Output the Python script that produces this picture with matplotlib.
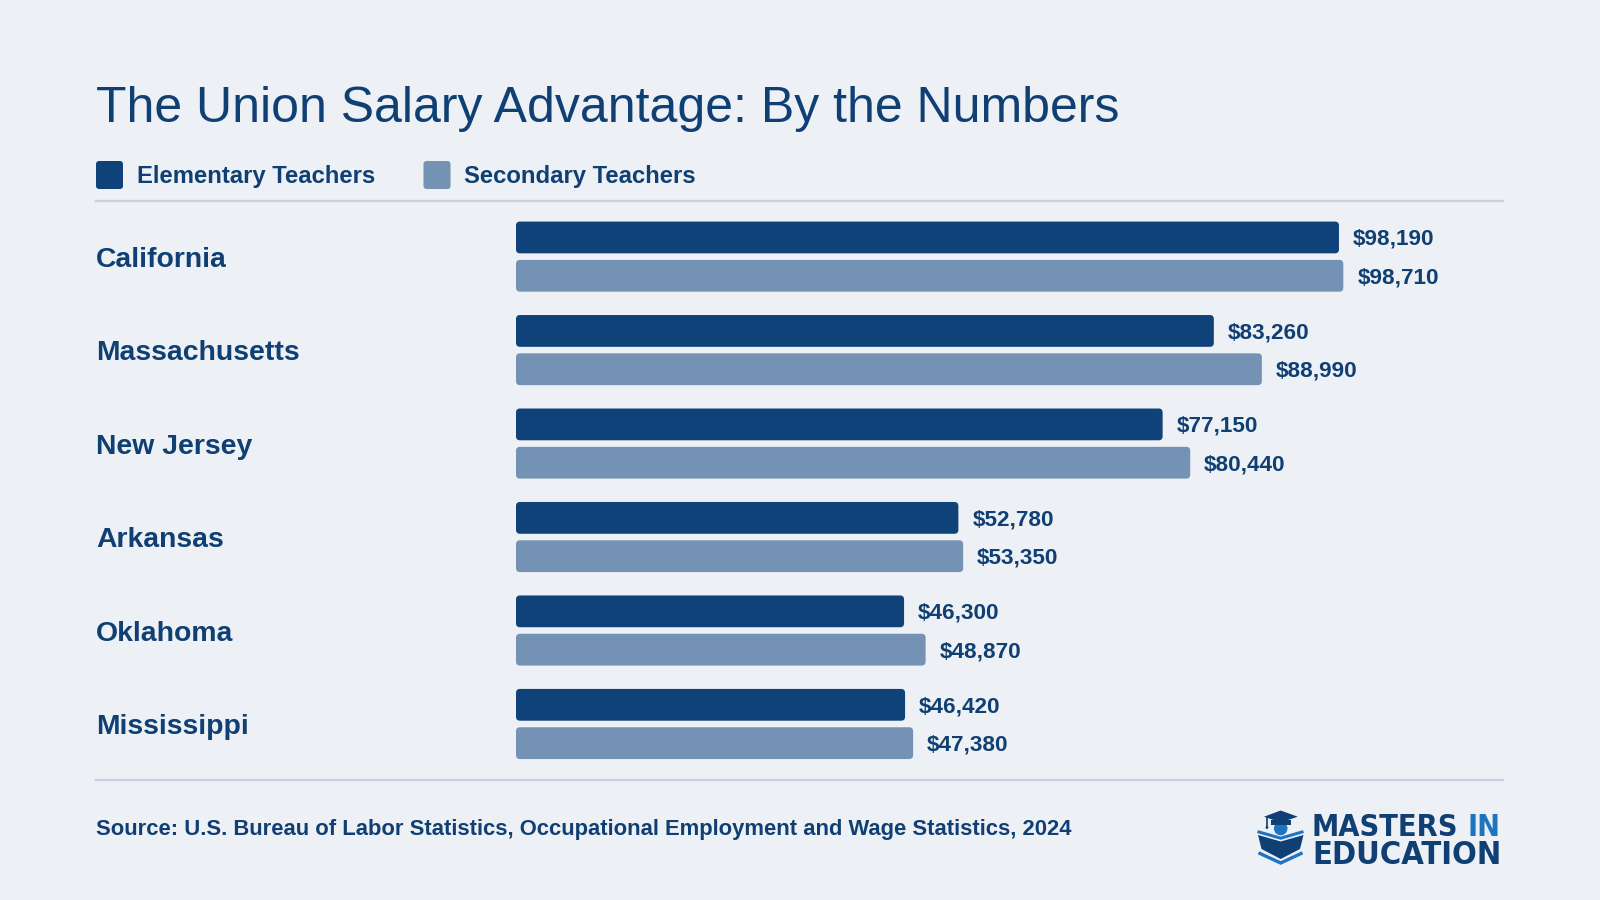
import matplotlib
matplotlib.use("Agg")
import matplotlib.pyplot as plt
from matplotlib import font_manager
from matplotlib.patches import FancyBboxPatch, Polygon, Circle, Rectangle
from matplotlib.lines import Line2D

# ---------------- data ----------------
states = ["California", "Massachusetts", "New Jersey", "Arkansas", "Oklahoma", "Mississippi"]
elementary = [98190, 83260, 77150, 52780, 46300, 46420]
secondary = [98710, 88990, 80440, 53350, 48870, 47380]
series_labels = ["Elementary Teachers", "Secondary Teachers"]
title = "The Union Salary Advantage: By the Numbers"
source = "Source: U.S. Bureau of Labor Statistics, Occupational Employment and Wage Statistics, 2024"
logo_line1 = "MASTERS"
logo_line1b = "IN"
logo_line2 = "EDUCATION"

# ---------------- style ----------------
BG = "#edf0f5"
NAVY = "#0f3f73"
ELEM = "#10427a"
SEC = "#7492b3"
RULE = "#c7d1df"
LOGO_BLUE = "#1f74c1"
FONT = "Liberation Sans"

# pick a condensed bold face for the logo if one is installed
logo_font = None
for f in font_manager.fontManager.ttflist:
    nm = (f.name + " " + f.fname).lower()
    if ("narrow" in nm or "condensed" in nm) and f.weight in (700, "bold") and "italic" not in nm \
            and "oblique" not in nm:
        logo_font = font_manager.FontProperties(fname=f.fname)
        break
if logo_font is None:
    logo_font = font_manager.FontProperties(family=FONT, weight="bold")

W, H = 1600, 900
fig = plt.figure(figsize=(16, 9), dpi=100)
fig.patch.set_facecolor(BG)

ov = fig.add_axes([0, 0, 1, 1], zorder=0)
ov.set_xlim(0, W)
ov.set_ylim(H, 0)
ov.axis("off")

# title
ov.text(96, 122, title, fontsize=36, color=NAVY, family=FONT, va="baseline", ha="left")

# legend
leg_items = [(96, series_labels[0], ELEM), (423.5, series_labels[1], SEC)]
for x0, lab, col in leg_items:
    ov.add_patch(FancyBboxPatch((x0, 161), 27, 28, boxstyle="round,pad=0,rounding_size=3",
                                facecolor=col, edgecolor="none"))
    ov.text(x0 + 41, 176, lab, fontsize=17.2, fontweight="bold", color=NAVY, family=FONT,
            va="center", ha="left")

# rules
ov.add_line(Line2D([96, 1503], [201, 201], color=RULE, lw=1.6))
ov.add_line(Line2D([96, 1503], [779.5, 779.5], color=RULE, lw=1.6))

# source
ov.text(96, 829, source, fontsize=15.8, fontweight="bold", color=NAVY, family=FONT,
        va="center", ha="left")

# ---------------- bars ----------------
ax_left, ax_right = 516, 1503
ax_top, ax_bot = 201, 779.5
ax = fig.add_axes([ax_left / W, 1 - ax_bot / H, (ax_right - ax_left) / W, (ax_bot - ax_top) / H],
                  zorder=1)
ax.set_facecolor("none")
for s in ax.spines.values():
    s.set_visible(False)
ax.set_xticks([])
ax.set_yticks([])
XMAX = 117760
ax.set_xlim(0, XMAX)
ax.set_ylim(5.594, -0.595)

off = 0.205
bh = 0.34
ypos = list(range(len(states)))
b1 = ax.barh([y - off for y in ypos], elementary, height=bh, color=ELEM)
b2 = ax.barh([y + off for y in ypos], secondary, height=bh, color=SEC)

x_per_px = XMAX / (ax_right - ax_left)
y_per_px = (5.594 + 0.595) / (ax_bot - ax_top)
asp = y_per_px / x_per_px
for bars in (b1, b2):
    for r in bars:
        x, y, w, h = r.get_x(), r.get_y(), r.get_width(), r.get_height()
        col = r.get_facecolor()
        r.set_visible(False)
        ax.add_patch(FancyBboxPatch((x, y), w, h,
                                    boxstyle=f"round,pad=0,rounding_size={4 * x_per_px}",
                                    mutation_aspect=asp, facecolor=col, edgecolor="none"))

for y, v in zip(ypos, elementary):
    ax.annotate(f"${v:,}", xy=(v, y - off), xytext=(14, -2), textcoords="offset pixels",
                fontsize=16.2, fontweight="bold", color=NAVY, family=FONT, va="center", ha="left")
for y, v in zip(ypos, secondary):
    ax.annotate(f"${v:,}", xy=(v, y + off), xytext=(14, -2), textcoords="offset pixels",
                fontsize=16.2, fontweight="bold", color=NAVY, family=FONT, va="center", ha="left")

for y, st in zip(ypos, states):
    ypx = ax_top + (y + 0.595) / y_per_px + 3
    ov.text(96, ypx, st, fontsize=20.4, fontweight="bold", color=NAVY, family=FONT,
            va="center", ha="left")

# ---------------- logo ----------------
fig.canvas.draw()
rend = fig.canvas.get_renderer()


def fit_size(txt, target_w, base=30):
    t = ov.text(0, 0, txt, fontproperties=logo_font, fontsize=base)
    w = t.get_window_extent(rend).width
    t.remove()
    return base * target_w / w


fs1 = min(fit_size(logo_line1 + " " + logo_line1b, 189), 28)
fs2 = min(fit_size(logo_line2, 189), 28)
t1 = ov.text(1312, 836, logo_line1, fontproperties=logo_font, fontsize=fs1, color=NAVY,
             va="baseline", ha="left")
bb = t1.get_window_extent(rend)
sp = ov.text(0, 0, "M M", fontproperties=logo_font, fontsize=fs1)
spw = sp.get_window_extent(rend).width
sp.remove()
mm = ov.text(0, 0, "MM", fontproperties=logo_font, fontsize=fs1)
spw -= mm.get_window_extent(rend).width
mm.remove()
ov.text(bb.x1 + spw, 836, logo_line1b, fontproperties=logo_font, fontsize=fs1, color=LOGO_BLUE,
        va="baseline", ha="left")
ov.text(1312, 864, logo_line2, fontproperties=logo_font, fontsize=fs2, color=NAVY,
        va="baseline", ha="left")

# icon
ov.add_patch(Circle((1280.7, 828.5), 6.8, facecolor=LOGO_BLUE, edgecolor="none"))
ov.add_patch(Rectangle((1271, 819.5), 19.5, 5.5, facecolor=NAVY, edgecolor="none"))
ov.add_patch(Polygon([(1264, 816.7), (1280.7, 810.5), (1297.7, 816.7), (1280.7, 822.5)],
                     closed=True, facecolor=NAVY, edgecolor="none"))
ov.add_line(Line2D([1267, 1267], [817, 827], color=NAVY, lw=1.2))
ov.add_patch(Circle((1267, 827.5), 1.4, facecolor=NAVY, edgecolor="none"))
ov.add_patch(Polygon([(1258, 835), (1280.7, 841.5), (1303.5, 835), (1300, 849), (1280.7, 859),
                      (1261.5, 849)], closed=True, facecolor=NAVY, edgecolor="none"))
ov.add_line(Line2D([1259, 1280.7, 1302], [832, 838.2, 832], color=LOGO_BLUE, lw=2.2,
                   solid_joinstyle="miter"))
ov.add_line(Line2D([1260, 1280.7, 1301], [853.5, 863, 853.5], color=LOGO_BLUE, lw=2.4,
                   solid_joinstyle="miter"))

fig.savefig("out.png", dpi=100, facecolor=BG)
